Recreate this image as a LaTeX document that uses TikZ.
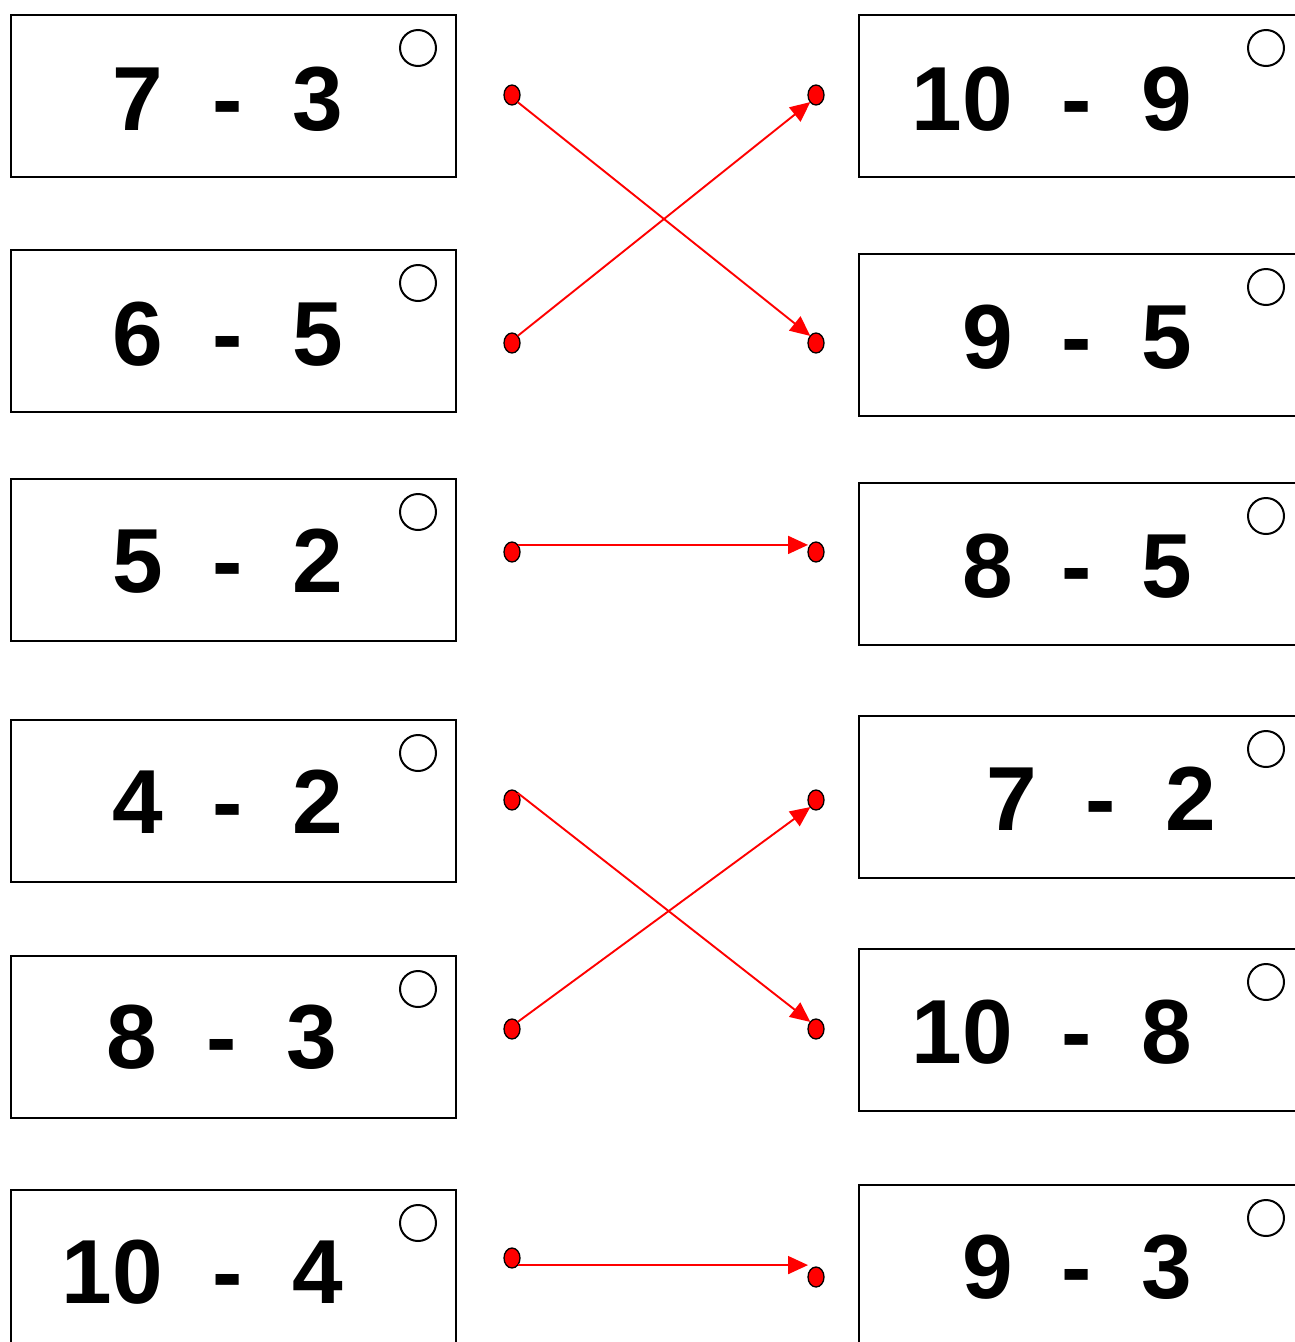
\documentclass[tikz,border=0pt]{standalone}
\usepackage{fontspec}
\setmainfont{Liberation Sans}
\usetikzlibrary{arrows.meta,shapes.geometric}
\begin{document}
\begin{tikzpicture}[x=1pt,y=-1pt,
  cardbox/.style={draw=black,line width=2pt,minimum width=445pt,minimum height=162pt,inner sep=0pt,anchor=north west},
  cardboxr/.style={cardbox,minimum width=460pt},
  ring/.style={draw=black,circle,line width=2pt,minimum size=36pt,inner sep=0pt},
  numtxt/.style={inner sep=0pt,font=\fontsize{91}{91}\selectfont\bfseries},
  dotnode/.style={ellipse,draw=black,fill=red,line width=1.3pt,minimum width=16pt,minimum height=20pt,inner sep=0pt,outer sep=0pt},
  conn/.style={draw=red,line width=1.9pt,-{Triangle[length=20pt,width=18pt]}}
]
\useasboundingbox (0,0) rectangle (1295,1342);
\clip (0,0) rectangle (1295,1342);
\fill[white] (0,0) rectangle (1295,1342);

% left boxes
\foreach \i/\t in {1/14,2/249,3/478,4/719,5/955,6/1189}{
  \node[cardbox] (lb\i) at (10,\t) {};
  \node[ring] (lr\i) at (418,\t+34) {};
}
% right boxes
\foreach \i/\t in {1/14,2/253,3/482,4/715,5/948,6/1184}{
  \node[cardboxr] (rb\i) at (858,\t) {};
  \node[ring] (rr\i) at (1266,\t+34) {};
}

% left texts
\foreach \i/\a/\b/\x/\y in {1/7/3/163/130,2/6/5/163/365,3/5/2/163/592,4/4/2/163/833,5/8/3/157/1068,6/10/4/163/1303}{
  \node[numtxt,anchor=base east] (la\i) at (\x,\y) {\a};
  \node[numtxt,anchor=base] (lm\i) at (\x+65,\y) {-};
  \node[numtxt,anchor=base west] (lz\i) at (\x+129,\y) {\b};
}
% right texts
\foreach \i/\a/\b/\x/\y in {1/10/9/1013/130,2/9/5/1013/368,3/8/5/1013/597,4/7/2/1037/830,5/10/8/1013/1063,6/9/3/1013/1298}{
  \node[numtxt,anchor=base east] (ra\i) at (\x,\y) {\a};
  \node[numtxt,anchor=base] (rm\i) at (\x+64,\y) {-};
  \node[numtxt,anchor=base west] (rz\i) at (\x+128,\y) {\b};
}

% dots
\foreach \i/\y in {1/95,2/343,3/552,4/800,5/1029,6/1258}{
  \node[dotnode] (ld\i) at (512,\y) {};
}
\foreach \i/\y in {1/95,2/343,3/552,4/800,5/1029,6/1277}{
  \node[dotnode] (rd\i) at (816,\y) {};
}

% connectors
\draw[conn] (ld1.south east) -- (rd2.north west);
\draw[conn] (ld2.north east) -- (rd1.south west);
\draw[conn] (ld3.north east) -- (ld3.north east -| rd3.west);
\draw[conn] (ld4.north east) -- (rd5.north west);
\draw[conn] (ld5.north east) -- (rd4.south west);
\draw[conn] (ld6.south east) -- (ld6.south east -| rd6.west);
\end{tikzpicture}
\end{document}
